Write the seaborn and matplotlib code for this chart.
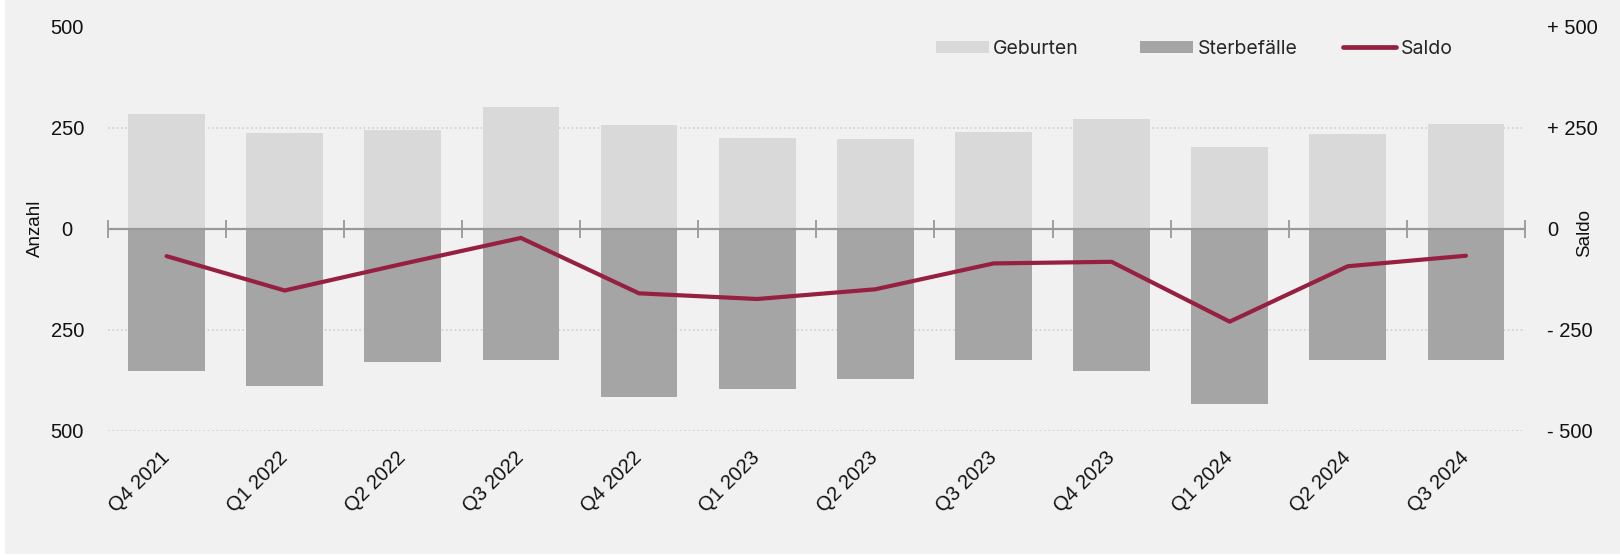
import numpy as np
import pandas as pd
import matplotlib
matplotlib.use("Agg")
import matplotlib.pyplot as plt
from matplotlib.patches import Patch, Rectangle
from matplotlib.lines import Line2D
import seaborn as sns

# ---- data ----
quarters = ["Q4 2021", "Q1 2022", "Q2 2022", "Q3 2022", "Q4 2022", "Q1 2023",
            "Q2 2023", "Q3 2023", "Q4 2023", "Q1 2024", "Q2 2024", "Q3 2024"]
geburten = [284, 237, 243, 302, 257, 223, 222, 239, 270, 203, 233, 258]
sterbefaelle = [352, 390, 330, 325, 417, 397, 372, 325, 352, 433, 326, 325]
saldo = [-68, -153, -87, -23, -160, -174, -150, -86, -82, -230, -93, -67]

series_names = ["Geburten", "Sterbefälle", "Saldo"]
ytick_values = [-500, -250, 0, 250, 500]
left_ticklabels = ["500", "250", "0", "250", "500"]
right_ticklabels = ["- 500", "- 250", "0", "+ 250", "+ 500"]
left_axis_label = "Anzahl"
right_axis_label = "Saldo"

# ---- style ----
sns.set_style("white")
plt.rcParams["font.family"] = ["Liberation Sans", "DejaVu Sans"]
LEGEND_FONT = ["Inter", "DejaVu Sans"]

BG = "#f1f1f1"
C_BIRTH = "#d9d9d9"
C_DEATH = "#a5a5a5"
C_LINE = "#96203f"
C_AXIS = "#999999"
C_TEXT = "#111111"

fig = plt.figure(figsize=(16.2, 5.56), dpi=100, facecolor=BG)
fig.patches.append(Rectangle((0, 0), 5 / 1620, 1, transform=fig.transFigure,
                             facecolor="white", edgecolor="none", zorder=-10))
fig.patches.append(Rectangle((0, 0), 1, 2 / 556, transform=fig.transFigure,
                             facecolor="white", edgecolor="none", zorder=-10))

AX_L, AX_W, AX_T, AX_H = 107.5, 1417.5, 26.5, 404.3
ax = fig.add_axes([AX_L / 1620, 125.2 / 556, AX_W / 1620, AX_H / 556])
ax.set_facecolor(BG)

df = pd.DataFrame({"quarter": quarters, "geburten": geburten,
                   "sterbe": [-v for v in sterbefaelle], "saldo": saldo})

sns.barplot(data=df, x="quarter", y="geburten", color=C_BIRTH, saturation=1,
            width=0.65, ax=ax, zorder=2, linewidth=0, edgecolor="none")
sns.barplot(data=df, x="quarter", y="sterbe", color=C_DEATH, saturation=1,
            width=0.65, ax=ax, zorder=2, linewidth=0, edgecolor="none")

n = len(quarters)
ax.axhline(0, color=C_AXIS, lw=1.6, zorder=3)
ax.plot(np.arange(n + 1) - 0.5, np.zeros(n + 1), ls="none", marker="|",
        ms=13, mew=1.3, color=C_AXIS, zorder=3, clip_on=False)

sns.lineplot(data=df, x="quarter", y="saldo", sort=False, color=C_LINE, lw=3.0,
             ax=ax, zorder=4, solid_capstyle="round", solid_joinstyle="miter")

ax.set_xlim(-0.5, n - 0.5)
ax.set_ylim(-500, 500)
ax.set_yticks(ytick_values)
ax.set_yticklabels(left_ticklabels)
ax.yaxis.grid(True, color="#cfcfcf", lw=1.2, ls=(0, (1, 1.6)), zorder=0)
ax.xaxis.grid(False)
ax.set_axisbelow(True)
for s in ax.spines.values():
    s.set_visible(False)

ax.tick_params(axis="y", length=0, pad=29, labelsize=14.5, labelcolor=C_TEXT)
for lbl in ax.get_yticklabels():
    lbl.set_horizontalalignment("center")
ax.tick_params(axis="x", length=0, pad=17, labelsize=14.5, labelcolor=C_TEXT)
ax.set_xticks(range(n))
ax.set_xticklabels(quarters, rotation=45, ha="right", va="center",
                   rotation_mode="anchor")
ax.set_xlabel("")
ax.set_ylabel(left_axis_label, fontsize=13.5, color=C_TEXT, rotation=90,
              va="center", ha="center")
ax.yaxis.set_label_coords((35 - AX_L) / AX_W, 0.5)

ax2 = ax.twinx()
ax2.set_ylim(ax.get_ylim())
ax2.set_yticks(ytick_values)
ax2.set_yticklabels(right_ticklabels)
ax2.tick_params(axis="y", length=0, pad=16, labelsize=14.5, labelcolor=C_TEXT)
for s in ax2.spines.values():
    s.set_visible(False)
ax2.set_ylabel(right_axis_label, fontsize=13.5, color=C_TEXT, rotation=90,
               va="center", ha="center")
ax2.yaxis.set_label_coords((1585 - AX_L) / AX_W, 0.49)

leg_kw = dict(loc="center left", frameon=False, handlelength=2.7,
              handleheight=0.6, handletextpad=0.25, borderpad=0,
              borderaxespad=0, prop={"family": LEGEND_FONT, "size": 14})
leg_y = 1 - (49 - AX_T) / AX_H

bar_handles = [Patch(facecolor=C_BIRTH, edgecolor="none"),
               Patch(facecolor=C_DEATH, edgecolor="none")]
leg1 = ax2.legend(bar_handles, series_names[:2], ncol=2, columnspacing=3.15,
                  bbox_to_anchor=((936 - AX_L) / AX_W, leg_y), **leg_kw)
ax2.add_artist(leg1)
line_handles = [Line2D([0], [0], color=C_LINE, lw=3.4, solid_capstyle="round")]
ax2.legend(line_handles, series_names[2:], ncol=1,
           bbox_to_anchor=((1343 - AX_L) / AX_W, leg_y), **leg_kw)

fig.savefig("out.png", dpi=100, facecolor=BG)
